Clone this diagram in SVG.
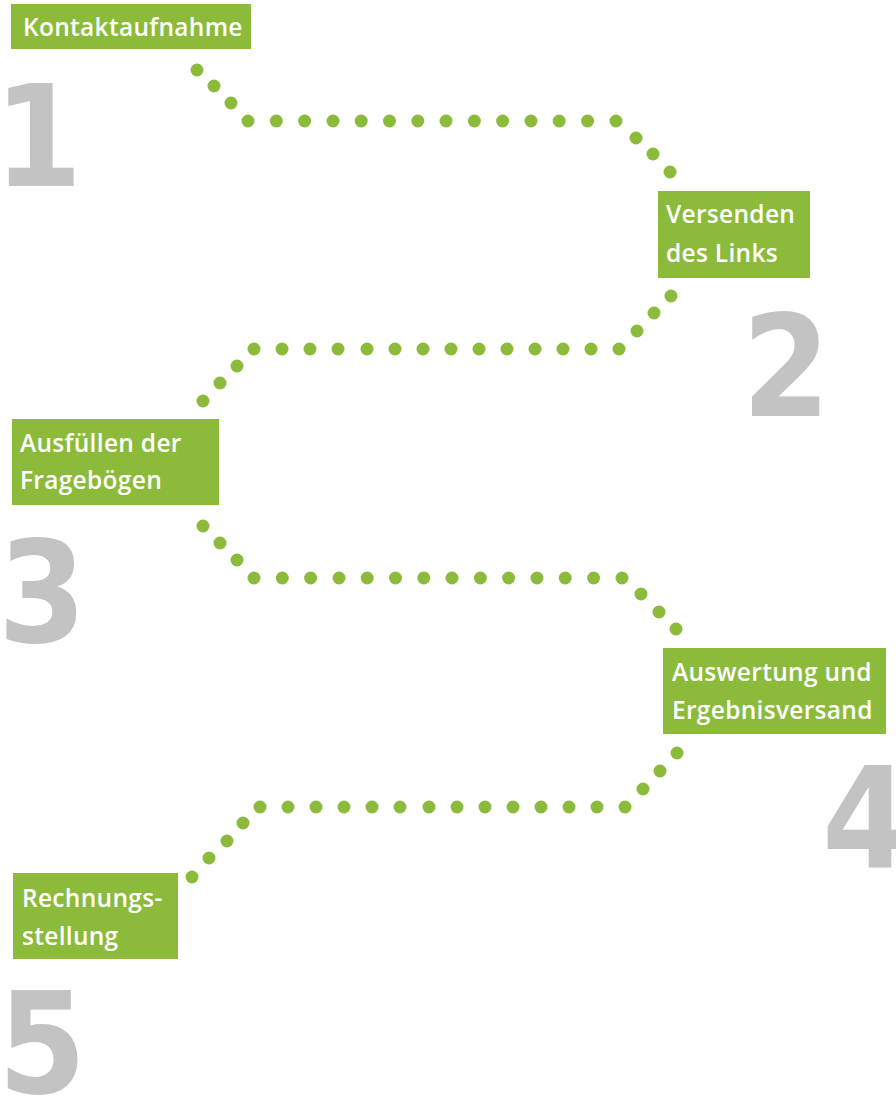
<svg xmlns="http://www.w3.org/2000/svg" width="896" height="1097" viewBox="0 0 896 1097">
<style>
.box{fill:#8cbb3c}
.lbl{font-family:"Open Sans","Liberation Sans",sans-serif;font-weight:600;font-size:24.5px;letter-spacing:0.3px;fill:#ffffff}
.num{font-family:"DejaVu Sans Condensed","DejaVu Sans","Liberation Sans",sans-serif;font-stretch:condensed;font-weight:700;font-size:141px;fill:#c3c3c3}
.dot{fill:#8cbb3c}
</style>
<rect width="896" height="1097" fill="#ffffff"/>
<g id="connectors">
<g id="path1">
<circle class="dot" cx="197" cy="70" r="6.5"/><circle class="dot" cx="214" cy="86" r="6.5"/><circle class="dot" cx="231" cy="103" r="6.5"/><circle class="dot" cx="248" cy="121" r="6.5"/>
<circle class="dot" cx="276.3" cy="121" r="6.5"/><circle class="dot" cx="304.6" cy="121" r="6.5"/><circle class="dot" cx="333" cy="121" r="6.5"/><circle class="dot" cx="361.2" cy="121" r="6.5"/><circle class="dot" cx="389.5" cy="121" r="6.5"/><circle class="dot" cx="417.8" cy="121" r="6.5"/><circle class="dot" cx="446" cy="121" r="6.5"/><circle class="dot" cx="474.4" cy="121" r="6.5"/><circle class="dot" cx="502.6" cy="121" r="6.5"/><circle class="dot" cx="531" cy="121" r="6.5"/><circle class="dot" cx="559.2" cy="121" r="6.5"/><circle class="dot" cx="587.6" cy="121" r="6.5"/><circle class="dot" cx="616" cy="121" r="6.5"/>
<circle class="dot" cx="636" cy="138" r="6.5"/><circle class="dot" cx="653" cy="154" r="6.5"/><circle class="dot" cx="670" cy="172" r="6.5"/>
</g>
<g id="path2">
<circle class="dot" cx="671" cy="296" r="6.5"/><circle class="dot" cx="654" cy="313" r="6.5"/><circle class="dot" cx="637" cy="331" r="6.5"/><circle class="dot" cx="619" cy="349" r="6.5"/>
<circle class="dot" cx="591" cy="349" r="6.5"/><circle class="dot" cx="563" cy="349" r="6.5"/><circle class="dot" cx="535" cy="349" r="6.5"/><circle class="dot" cx="507" cy="349" r="6.5"/><circle class="dot" cx="479" cy="349" r="6.5"/><circle class="dot" cx="451" cy="349" r="6.5"/><circle class="dot" cx="423" cy="349" r="6.5"/><circle class="dot" cx="395" cy="349" r="6.5"/><circle class="dot" cx="367" cy="349" r="6.5"/><circle class="dot" cx="338" cy="349" r="6.5"/><circle class="dot" cx="310" cy="349" r="6.5"/><circle class="dot" cx="282" cy="349" r="6.5"/><circle class="dot" cx="254" cy="349" r="6.5"/>
<circle class="dot" cx="237" cy="366" r="6.5"/><circle class="dot" cx="220" cy="383" r="6.5"/><circle class="dot" cx="203" cy="401" r="6.5"/>
</g>
<g id="path3">
<circle class="dot" cx="203" cy="526" r="6.5"/><circle class="dot" cx="220" cy="543" r="6.5"/><circle class="dot" cx="237" cy="560" r="6.5"/><circle class="dot" cx="254" cy="578" r="6.5"/>
<circle class="dot" cx="282.3" cy="578" r="6.5"/><circle class="dot" cx="310.6" cy="578" r="6.5"/><circle class="dot" cx="339" cy="578" r="6.5"/><circle class="dot" cx="367.2" cy="578" r="6.5"/><circle class="dot" cx="395.5" cy="578" r="6.5"/><circle class="dot" cx="423.8" cy="578" r="6.5"/><circle class="dot" cx="452" cy="578" r="6.5"/><circle class="dot" cx="480.4" cy="578" r="6.5"/><circle class="dot" cx="508.6" cy="578" r="6.5"/><circle class="dot" cx="537" cy="578" r="6.5"/><circle class="dot" cx="565.2" cy="578" r="6.5"/><circle class="dot" cx="593.6" cy="578" r="6.5"/><circle class="dot" cx="622" cy="578" r="6.5"/>
<circle class="dot" cx="641" cy="594" r="6.5"/><circle class="dot" cx="659" cy="612" r="6.5"/><circle class="dot" cx="676" cy="629" r="6.5"/>
</g>
<g id="path4">
<circle class="dot" cx="677" cy="753" r="6.5"/><circle class="dot" cx="660" cy="771" r="6.5"/><circle class="dot" cx="643" cy="789" r="6.5"/><circle class="dot" cx="625" cy="807" r="6.5"/>
<circle class="dot" cx="597" cy="807" r="6.5"/><circle class="dot" cx="569" cy="807" r="6.5"/><circle class="dot" cx="541" cy="807" r="6.5"/><circle class="dot" cx="513" cy="807" r="6.5"/><circle class="dot" cx="485" cy="807" r="6.5"/><circle class="dot" cx="457" cy="807" r="6.5"/><circle class="dot" cx="429" cy="807" r="6.5"/><circle class="dot" cx="400" cy="807" r="6.5"/><circle class="dot" cx="372" cy="807" r="6.5"/><circle class="dot" cx="344" cy="807" r="6.5"/><circle class="dot" cx="316" cy="807" r="6.5"/><circle class="dot" cx="288" cy="807" r="6.5"/><circle class="dot" cx="260" cy="807" r="6.5"/>
<circle class="dot" cx="243" cy="823" r="6.5"/><circle class="dot" cx="227" cy="841" r="6.5"/><circle class="dot" cx="209" cy="858" r="6.5"/><circle class="dot" cx="192" cy="877" r="6.5"/>
</g>
</g>
<g id="step1">
<rect class="box" x="11" y="4" width="240" height="45"/>
<text class="lbl" x="23" y="36">Kontaktaufnahme</text>
<text class="num" x="-6" y="186">1</text>
</g>
<g id="step2">
<rect class="box" x="658" y="191" width="152" height="87"/>
<text class="lbl" x="666" y="223">Versenden</text>
<text class="lbl" x="666" y="262">des Links</text>
<text class="num" x="742" y="416">2</text>
</g>
<g id="step3">
<rect class="box" x="12" y="419" width="207" height="86"/>
<text class="lbl" x="20" y="452">Ausfüllen der</text>
<text class="lbl" x="20" y="489">Fragebögen</text>
<text class="num" x="-2" y="642">3</text>
</g>
<g id="step4">
<rect class="box" x="663" y="648" width="223" height="86"/>
<text class="lbl" x="672" y="681">Auswertung und</text>
<text class="lbl" x="672" y="719">Ergebnisversand</text>
<text class="num" x="822" y="868">4</text>
</g>
<g id="step5">
<rect class="box" x="13" y="873" width="165" height="86"/>
<text class="lbl" x="22" y="907">Rechnungs-</text>
<text class="lbl" x="22" y="945">stellung</text>
<text class="num" x="-2" y="1093">5</text>
</g>
</svg>
